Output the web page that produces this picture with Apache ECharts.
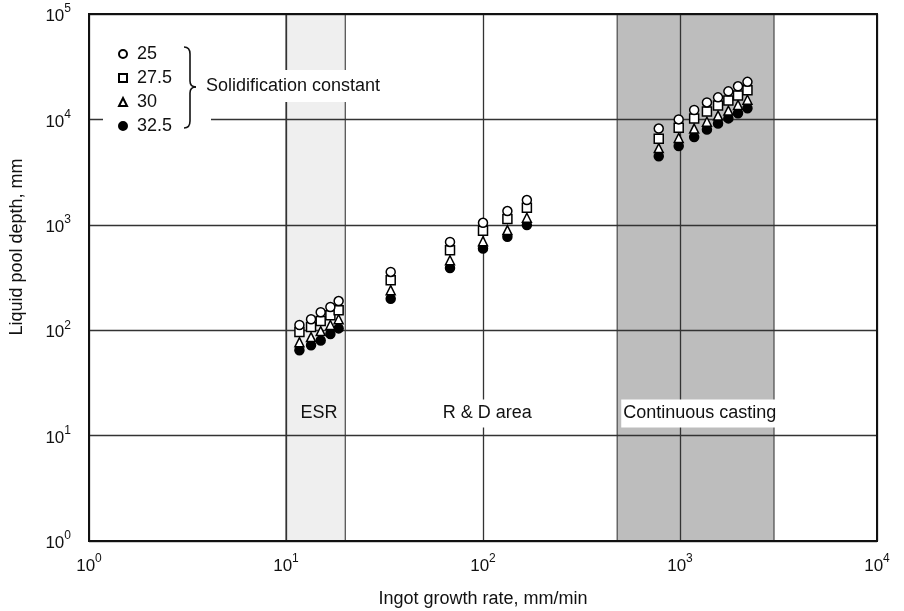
<!DOCTYPE html>
<html><head><meta charset="utf-8">
<script src="https://cdn.jsdelivr.net/npm/echarts@6/dist/echarts.min.js"></script>
<style>html,body{margin:0;padding:0;background:#fff}#c{width:904px;height:611px}</style>
</head><body><div id="c"></div>
<script>
// Ingot growth rate, mm/min (ESR, R&D, continuous casting)
const growthRate = [11.7, 13.4, 15, 16.8, 18.5, 34, 68, 100, 133, 167, 780, 985, 1180, 1370, 1560, 1760, 1970, 2200];
// Liquid pool depth, mm for each solidification constant
const depth25  = [112, 127, 148, 166, 189, 357, 688, 1045, 1350, 1718, 8190, 10000, 12280, 14480, 16180, 18460, 20600, 22700];
const depth275 = [96, 107, 122, 139, 155, 297, 574, 877, 1132, 1452, 6565, 8320, 10220, 11860, 13550, 15130, 16900, 18880];
const depth30  = [77, 86, 98, 112, 127, 240, 461, 700, 891, 1166, 5340, 6670, 8190, 9500, 10860, 12130, 13730, 15350];
const depth325 = [64.5, 72, 80, 92, 104, 199, 389, 595, 769, 993, 4477, 5590, 6820, 8010, 9160, 10220, 11420, 12760];
const seriesNames = ['25', '27.5', '30', '32.5'];
const xRange = [1, 10000];
const yRange = [1, 100000];
const bandESR = [10, 20];
const bandCC = [480, 3000];
const annText = ['ESR', 'R & D area', 'Continuous casting'];
const annX = [14.7, 105, 1260];
const annY = [16.2, 16.2, 16.2];

const FONT = "'Liberation Sans', Arial, Helvetica, sans-serif";
const TXT = '#111';
const FS = 18;
const pair = arr => growthRate.map((x, i) => [x, arr[i]]);
const supFmt = v => '{b|10}{s|' + Math.round(Math.log10(v)) + '}';
const rich = {
  b: {fontSize: 17, fontFamily: FONT, color: TXT, lineHeight: 22, verticalAlign: 'bottom'},
  s: {fontSize: 12, fontFamily: FONT, color: TXT, lineHeight: 12, verticalAlign: 'top'}
};
const gridLine = {show: true, lineStyle: {color: '#333', width: 1.3}};
const mk = (name, arr, symbol, fill) => ({
  name, type: 'scatter', z: 5, data: pair(arr), symbol, symbolSize: 9,
  itemStyle: {color: fill, borderColor: '#000', borderWidth: 1.5, opacity: 1},
  emphasis: {disabled: true}
});
const braceStyle = {fill: 'none', stroke: '#111', lineWidth: 1.6};
const brace = [
  {type: 'bezierCurve', shape: {x1: 184, y1: 47, cpx1: 190, cpy1: 47, x2: 190, y2: 54}},
  {type: 'line', shape: {x1: 190, y1: 54, x2: 190, y2: 81}},
  {type: 'bezierCurve', shape: {x1: 190, y1: 81, cpx1: 190, cpy1: 87, x2: 196, y2: 87}},
  {type: 'bezierCurve', shape: {x1: 196, y1: 87, cpx1: 190, cpy1: 87, x2: 190, y2: 93}},
  {type: 'line', shape: {x1: 190, y1: 93, x2: 190, y2: 121}},
  {type: 'bezierCurve', shape: {x1: 190, y1: 121, cpx1: 190, cpy1: 128, x2: 184, y2: 128}}
].map(e => Object.assign(e, {z: 16, silent: true, style: braceStyle}));

const chart = echarts.init(document.getElementById('c'), null, {renderer: 'canvas'});
chart.setOption({
  animation: false,
  backgroundColor: '#fff',
  grid: {left: 89, right: 27, top: 14, bottom: 70, containLabel: false, outerBoundsMode: 'none',
         show: true, borderColor: '#111', borderWidth: 2, backgroundColor: 'transparent', z: 4},
  xAxis: {
    type: 'log', logBase: 10, min: xRange[0], max: xRange[1], z: 3,
    axisLine: {show: true, lineStyle: {color: '#111', width: 2}},
    axisTick: {show: false}, splitLine: gridLine,
    axisLabel: {formatter: supFmt, rich, margin: 12},
    name: 'Ingot growth rate, mm/min', nameLocation: 'middle', nameGap: 49,
    nameTextStyle: {fontSize: FS, fontFamily: FONT, color: TXT}
  },
  yAxis: {
    type: 'log', logBase: 10, min: yRange[0], max: yRange[1], z: 3,
    axisLine: {show: true, lineStyle: {color: '#111', width: 2}},
    axisTick: {show: false}, splitLine: gridLine,
    axisLabel: {formatter: supFmt, rich, margin: 18}
  },
  legend: {
    data: seriesNames, orient: 'vertical', left: 118, top: 45, z: 20,
    itemWidth: 8, itemHeight: 8, itemGap: 6, padding: 0, selectedMode: false,
    textStyle: {fontSize: FS, fontFamily: FONT, color: TXT, lineHeight: 16.4, padding: [0, 0, 0, 5]}
  },
  graphic: [
    {type: 'rect', z: 15, silent: true, shape: {x: 103, y: 38, width: 108, height: 98}, style: {fill: '#fff'}},
    ...brace,
    {type: 'text', z: 16, x: 203, y: 86, silent: true,
     style: {text: 'Solidification constant', fontSize: FS, fontFamily: FONT, fill: TXT, verticalAlign: 'middle', align: 'left',
             backgroundColor: '#fff', padding: [7, 3]}},
    {type: 'text', z: 16, x: 17, y: 247, rotation: Math.PI / 2, silent: true,
     style: {text: 'Liquid pool depth, mm', fontSize: FS, fontFamily: FONT, fill: TXT, align: 'center', verticalAlign: 'middle'}}
  ],
  series: [
    {
      name: 'bands', type: 'scatter', data: [], z: 1, silent: true,
      markArea: {
        silent: true,
        data: [
          [{xAxis: bandESR[0], itemStyle: {color: '#efefef', borderColor: '#555', borderWidth: 1.3}}, {xAxis: bandESR[1]}],
          [{xAxis: bandCC[0], itemStyle: {color: '#bdbdbd', borderColor: '#555', borderWidth: 1.3}}, {xAxis: bandCC[1]}]
        ]
      }
    },
    mk(seriesNames[3], depth325, 'circle', '#000'),
    mk(seriesNames[2], depth30, 'triangle', '#fff'),
    mk(seriesNames[1], depth275, 'rect', '#fff'),
    mk(seriesNames[0], depth25, 'circle', '#fff'),
    {
      name: 'notes', type: 'scatter', z: 6, silent: true, symbolSize: 0,
      itemStyle: {opacity: 1},
      data: annX.map((x, i) => ({value: [x, annY[i]], name: annText[i],
        label: i === 0 ? {backgroundColor: 'transparent'} : {}})),
      label: {show: true, position: 'inside', formatter: p => p.name, fontSize: FS, fontFamily: FONT, color: TXT,
              backgroundColor: '#fff', padding: [5, 2], opacity: 1}
    }
  ]
});
</script></body></html>
